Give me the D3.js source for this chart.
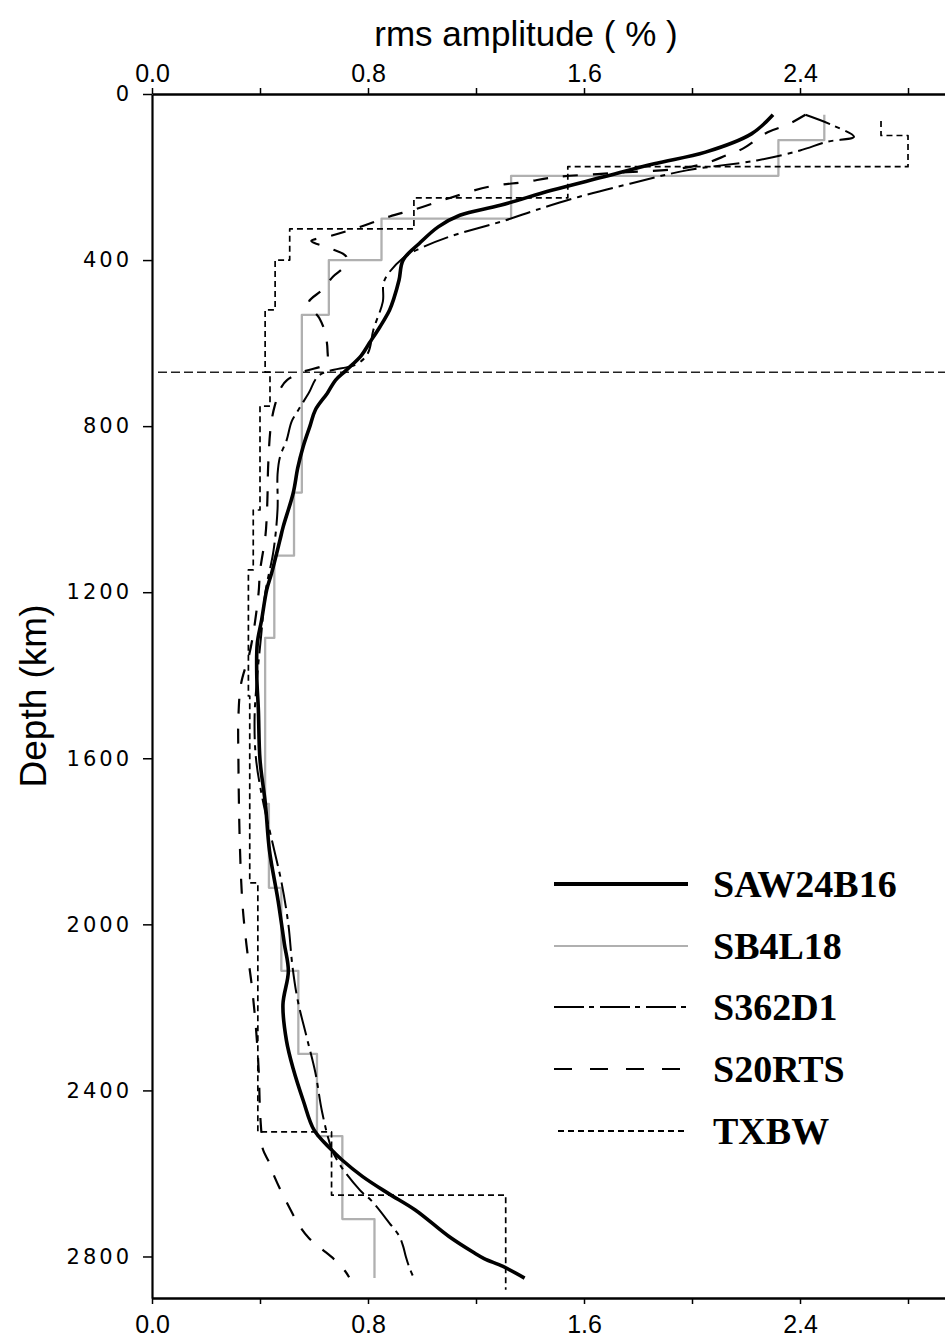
<!DOCTYPE html>
<html><head><meta charset="utf-8">
<script src="https://cdn.jsdelivr.net/npm/d3@7"></script>
<style>body{margin:0;background:#fff;} svg{display:block;}</style>
</head><body>
<svg id="chart" width="945" height="1338"></svg>
<script>
// ---------- data (depth in km, rms amplitude in %) ----------
const saw24Depth = [50, 96, 140, 168, 200, 232, 268, 292, 320, 360, 400, 448, 494, 520, 560, 600, 630, 665, 689, 720, 761, 800, 849, 900, 961, 1042, 1074, 1154, 1194, 1267, 1323, 1400, 1484, 1604, 1710, 1822, 1943, 2046, 2113, 2193, 2280, 2348, 2426, 2495, 2540, 2567, 2607, 2648, 2688, 2752, 2790, 2805, 2824, 2852];
const saw24Rms   = [2.30, 2.22, 2.05, 1.86, 1.67, 1.48, 1.29, 1.14, 1.06, 0.99, 0.93, 0.915, 0.895, 0.88, 0.845, 0.805, 0.775, 0.72, 0.68, 0.65, 0.605, 0.585, 0.56, 0.54, 0.523, 0.486, 0.474, 0.443, 0.425, 0.406, 0.39, 0.388, 0.394, 0.40, 0.42, 0.435, 0.467, 0.49, 0.505, 0.485, 0.498, 0.523, 0.561, 0.60, 0.66, 0.703, 0.779, 0.875, 0.975, 1.10, 1.19, 1.23, 1.30, 1.38];

// SB4L18: layered model (layer top depth, value), bottom of last layer
const sb4Top = [50, 111, 197, 300, 400, 532, 960, 1112, 1310, 1710, 1912, 2112, 2312, 2510, 2710];
const sb4Rms = [2.49, 2.32, 1.33, 0.85, 0.655, 0.555, 0.526, 0.453, 0.419, 0.433, 0.479, 0.542, 0.611, 0.705, 0.824];
const sb4Bottom = 2852;

const s362Depth = [50, 75, 103, 115, 136, 160, 184, 216, 248, 280, 304, 344, 370, 395, 450, 500, 568, 624, 650, 677, 721, 761, 789, 833, 874, 916, 1000, 1100, 1200, 1300, 1400, 1500, 1600, 1700, 1800, 1900, 2000, 2100, 2184, 2272, 2357, 2452, 2540, 2583, 2640, 2668, 2720, 2750, 2775, 2800, 2830, 2852];
const s362Rms   = [2.42, 2.52, 2.60, 2.50, 2.40, 2.24, 1.98, 1.77, 1.58, 1.42, 1.31, 1.10, 1.00, 0.93, 0.86, 0.855, 0.82, 0.80, 0.76, 0.62, 0.58, 0.542, 0.517, 0.499, 0.474, 0.465, 0.465, 0.45, 0.42, 0.405, 0.39, 0.38, 0.385, 0.41, 0.445, 0.48, 0.505, 0.52, 0.54, 0.573, 0.605, 0.63, 0.665, 0.70, 0.77, 0.816, 0.88, 0.915, 0.93, 0.94, 0.955, 0.97];

const s20Depth = [50, 75, 92, 131, 147, 167, 180, 190, 200, 212, 223, 251, 279, 295, 323, 342, 354, 372, 392, 417, 440, 472, 503, 540, 572, 617, 649, 669, 689, 705, 750, 800, 900, 962, 1018, 1065, 1150, 1200, 1300, 1350, 1420, 1500, 1600, 1800, 1950, 2050, 2150, 2250, 2350, 2450, 2500, 2540, 2575, 2610, 2645, 2690, 2720, 2755, 2780, 2810, 2835, 2850];
const s20Rms   = [2.42, 2.35, 2.28, 2.19, 2.13, 2.05, 1.95, 1.72, 1.50, 1.38, 1.25, 1.10, 0.968, 0.88, 0.758, 0.66, 0.59, 0.66, 0.72, 0.71, 0.67, 0.63, 0.58, 0.62, 0.64, 0.65, 0.645, 0.56, 0.50, 0.48, 0.455, 0.44, 0.43, 0.428, 0.425, 0.42, 0.40, 0.395, 0.375, 0.36, 0.33, 0.32, 0.32, 0.325, 0.335, 0.35, 0.37, 0.385, 0.395, 0.40, 0.405, 0.41, 0.435, 0.455, 0.48, 0.515, 0.54, 0.58, 0.625, 0.68, 0.715, 0.73];

// TXBW: layered model
const txbwTop = [65, 100, 175, 250, 325, 400, 520, 670, 752, 1002, 1146, 1450, 1900, 2500, 2652];
const txbwRms = [2.70, 2.80, 1.54, 0.97, 0.51, 0.456, 0.419, 0.437, 0.40, 0.375, 0.357, 0.362, 0.392, 0.665, 1.31];
const txbwBottom = 2880;

const xTicks = [0, 0.4, 0.8, 1.2, 1.6, 2.0, 2.4, 2.8];
const yTicks = [0, 400, 800, 1200, 1600, 2000, 2400, 2800];
const discontinuityDepth = 670;
const legendNames = ["SAW24B16", "SB4L18", "S362D1", "S20RTS", "TXBW"];

// ---------- layout ----------
const W = 945, H = 1338;
const x = d3.scaleLinear().domain([0, 2.937]).range([152, 945]);
const y = d3.scaleLinear().domain([0, 2900]).range([94, 1298]);
const svg = d3.select("#chart");
const sans = "'Liberation Sans', Arial, Helvetica, sans-serif";

svg.append("defs").append("clipPath").attr("id", "plotclip")
  .append("rect").attr("x", 152).attr("y", 94).attr("width", W - 152).attr("height", 1298 - 94);

const styles = {
  "SAW24B16": {stroke: "#000", width: 3.6, dash: null},
  "SB4L18":   {stroke: "#b0b0b0", width: 2.3, dash: null},
  "S362D1":   {stroke: "#000", width: 2.0, dash: "26,6,5,6"},
  "S20RTS":   {stroke: "#000", width: 2.2, dash: "15,15"},
  "TXBW":     {stroke: "#000", width: 1.7, dash: "6,4"}
};

function pts(depths, vals) { return depths.map((d, i) => ({d: d, v: vals[i]})); }
function stepPts(tops, vals, bottom) {
  const p = tops.map((d, i) => ({d: d, v: vals[i]}));
  p.push({d: bottom, v: vals[vals.length - 1]});
  return p;
}

const smoothLine = d3.line().x(p => x(p.v)).y(p => y(p.d)).curve(d3.curveCatmullRom.alpha(0.5));
const stepLine = d3.line().x(p => x(p.v)).y(p => y(p.d)).curve(d3.curveStepBefore);

const series = [
  {name: "SB4L18", path: stepLine(stepPts(sb4Top, sb4Rms, sb4Bottom))},
  {name: "TXBW", path: stepLine(stepPts(txbwTop, txbwRms, txbwBottom))},
  {name: "S20RTS", path: smoothLine(pts(s20Depth, s20Rms))},
  {name: "S362D1", path: smoothLine(pts(s362Depth, s362Rms))},
  {name: "SAW24B16", path: smoothLine(pts(saw24Depth, saw24Rms))}
];

const plot = svg.append("g").attr("clip-path", "url(#plotclip)");

plot.append("line")
  .attr("x1", x(0) + 6).attr("x2", W)
  .attr("y1", y(discontinuityDepth)).attr("y2", y(discontinuityDepth))
  .attr("stroke", "#222").attr("stroke-width", 1.5).attr("stroke-dasharray", "9,4");

series.forEach(s => {
  const st = styles[s.name];
  plot.append("path").attr("d", s.path)
    .attr("fill", "none").attr("stroke", st.stroke).attr("stroke-width", st.width)
    .attr("stroke-dasharray", st.dash).attr("stroke-linejoin", "round");
});

// ---------- axes ----------
const fmt = d3.format(".1f");
const xLab = d => (Math.round(d * 10) % 8 === 0) ? fmt(d) : "";

const topAxis = svg.append("g").attr("transform", `translate(0,${y(0)})`)
  .call(d3.axisTop(x).tickValues(xTicks).tickFormat(xLab).tickSize(6).tickSizeOuter(0).tickPadding(6));
const botAxis = svg.append("g").attr("transform", `translate(0,${y(2900)})`)
  .call(d3.axisBottom(x).tickValues(xTicks).tickFormat(xLab).tickSize(6).tickSizeOuter(0).tickPadding(11));
const leftAxis = svg.append("g").attr("transform", `translate(${x(0)},0)`)
  .call(d3.axisLeft(y).tickValues(yTicks).tickFormat(d3.format("d")).tickSize(9).tickSizeOuter(0).tickPadding(11));

[topAxis, botAxis].forEach(a => {
  a.select(".domain").attr("stroke", "#000").attr("stroke-width", 2.6);
  a.selectAll(".tick line").attr("stroke", "#000").attr("stroke-width", 1.5);
  a.selectAll("text").attr("font-family", sans).attr("font-size", 25).attr("fill", "#000");
});
leftAxis.select(".domain").attr("stroke", "#000").attr("stroke-width", 2.2);
leftAxis.selectAll(".tick line").attr("stroke", "#000").attr("stroke-width", 1.5);
leftAxis.selectAll("text").attr("font-family", "'DejaVu Sans', sans-serif").attr("font-size", 21)
  .attr("letter-spacing", 3).attr("fill", "#000");

// titles
svg.append("text").attr("x", 526).attr("y", 46).attr("text-anchor", "middle")
  .attr("font-family", sans).attr("font-size", 35).attr("fill", "#000")
  .text("rms amplitude ( % )");
svg.append("text").attr("transform", "translate(46,696) rotate(-90)").attr("text-anchor", "middle")
  .attr("font-family", sans).attr("font-size", 37).attr("fill", "#000")
  .text("Depth (km)");

// ---------- legend ----------
const legY = [884, 946, 1007, 1069, 1131];
const leg = svg.append("g");
legendNames.forEach((n, i) => {
  const st = styles[n];
  leg.append("line").attr("x1", n === "TXBW" ? 558 : 554).attr("x2", 688)
    .attr("y1", legY[i]).attr("y2", legY[i])
    .attr("stroke", st.stroke).attr("stroke-width", n === "SAW24B16" ? 3.8 : (n === "SB4L18" ? 2 : 1.8))
    .attr("stroke-dasharray", n === "S362D1" ? "30,5,5,6" : n === "S20RTS" ? "18,18" : n === "TXBW" ? "6,4" : null);
  leg.append("text").attr("x", 713).attr("y", legY[i] + 13)
    .attr("font-family", "'Liberation Serif', 'Times New Roman', serif").attr("font-weight", "bold")
    .attr("font-size", 38).attr("fill", "#000").text(n);
});
</script>
</body></html>
